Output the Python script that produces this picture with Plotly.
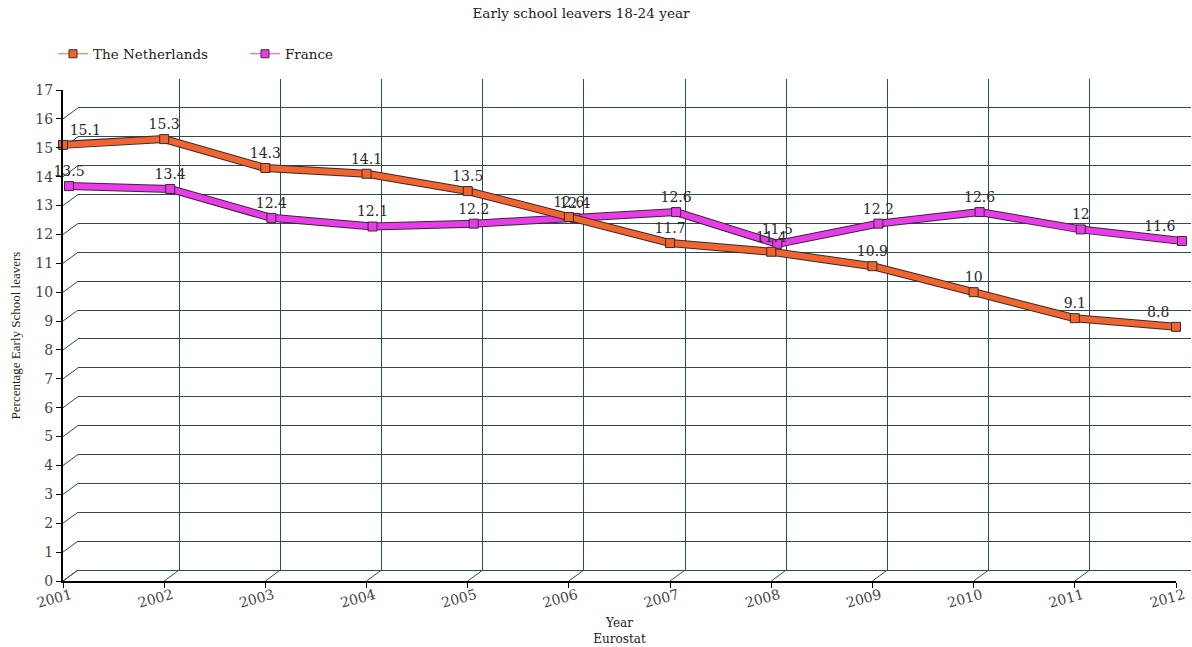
import plotly.graph_objects as go

# Early school leavers (18-24 year), percentage, Eurostat
years = [2001, 2002, 2003, 2004, 2005, 2006, 2007, 2008, 2009, 2010, 2011, 2012]
netherlands = [15.1, 15.3, 14.3, 14.1, 13.5, 12.6, 11.7, 11.4, 10.9, 10.0, 9.1, 8.8]
france = [13.5, 13.4, 12.4, 12.1, 12.2, 12.4, 12.6, 11.5, 12.2, 12.6, 12.0, 11.6]
y_ticks = list(range(0, 18))

NL_COLOR = "#F0652F"
FR_COLOR = "#E83CEB"
EDGE = "#3A2A2A"
GRID = "#2E4A58"
SERIF = "DejaVu Serif"
TIMES = "Liberation Serif"

# plot area in pixels
W, H = 1192, 647
L, R, T, B = 63, 1, 79, 66
PW = W - L - R
PH = H - T - B
DX, DY = 15, 11          # depth of the pseudo-3D box
MX, MY = 6, 5            # depth of the second series


def xdom(off):
    return [off / PW, (PW - DX + off) / PW]


def ydom(off):
    return [off / PH, (PH - DY + off) / PH]


fig = go.Figure()

# back wall grid lives on the first (bottom-most) subplot
fig.add_trace(go.Scatter(x=[None], y=[None], xaxis="x", yaxis="y",
                         showlegend=False, hoverinfo="skip"))


def ribbon(xs, ys, color, xa, ya, name, labpos, rank):
    # dark outline, then the coloured band with square markers
    fig.add_trace(go.Scatter(x=xs, y=ys, mode="lines", xaxis=xa, yaxis=ya,
                             line=dict(color=EDGE, width=8), showlegend=False,
                             hoverinfo="skip"))
    fig.add_trace(go.Scatter(x=xs, y=ys, mode="lines+markers+text", xaxis=xa, yaxis=ya,
                             line=dict(color=color, width=6),
                             marker=dict(symbol="square", size=9, color=color,
                                         line=dict(color=EDGE, width=1)),
                             text=[f"{v:g}" for v in ys], textposition=labpos,
                             textfont=dict(family=SERIF, size=14, color="#2a2a2a"),
                             cliponaxis=False, showlegend=False, name=name))
    # legend entry drawn with a thin line
    fig.add_trace(go.Scatter(x=[None], y=[None], mode="lines+markers", name=name,
                             xaxis=xa, yaxis=ya, legendrank=rank,
                             line=dict(color=color, width=1),
                             marker=dict(symbol="square", size=8, color=color,
                                         line=dict(color=EDGE, width=1))))


fr_pos = ["top center"] * (len(years) - 1) + ["top left"]
nl_pos = ["top right"] + ["top center"] * (len(years) - 2) + ["top left"]
ribbon(years, france, FR_COLOR, "x2", "y2", "France", fr_pos, 2)
ribbon(years, netherlands, NL_COLOR, "x3", "y3", "The Netherlands", nl_pos, 1)

xr = [years[0], years[-1]]
yr = [0, 17]

fig.update_layout(
    width=W, height=H,
    margin=dict(l=L, r=R, t=T, b=B, autoexpand=False),
    plot_bgcolor="rgba(0,0,0,0)", paper_bgcolor="white",
    font=dict(family=SERIF, size=13, color="#222"),
    title=dict(text="Early school leavers 18-24 year", x=581 / W, xanchor="center",
               y=1 - 13 / H, yanchor="middle", font=dict(size=13.6, family=SERIF)),
    legend=dict(orientation="h", x=(53 - L) / PW, xanchor="left", y=(H - B - 54) / PH,
                yanchor="middle", font=dict(size=13.5, family=SERIF), itemwidth=30,
                entrywidth=147, entrywidthmode="pixels",
                bgcolor="rgba(0,0,0,0)"),
    # back wall: gridlines only
    xaxis=dict(domain=xdom(DX), range=xr, tickvals=years, showticklabels=False,
               showgrid=True, gridcolor=GRID, gridwidth=1, zeroline=False,
               showline=False, anchor="y", automargin=False),
    yaxis=dict(domain=ydom(DY), range=yr, tickvals=y_ticks, showticklabels=False,
               showgrid=True, gridcolor=GRID, gridwidth=1, zeroline=True,
               zerolinecolor=GRID, zerolinewidth=1, showline=False, anchor="x",
               automargin=False),
    # middle depth: France
    xaxis2=dict(domain=xdom(MX), range=xr, visible=False, anchor="y2", automargin=False),
    yaxis2=dict(domain=ydom(MY), range=yr, visible=False, anchor="x2", automargin=False),
    # front: The Netherlands, with the visible axes
    xaxis3=dict(domain=xdom(0), range=xr, tickvals=years, ticktext=[str(y) for y in years],
                tickangle=-15, showgrid=False, zeroline=False, showline=True,
                linecolor="black", linewidth=2, ticks="outside", ticklen=5,
                tickcolor="black", tickfont=dict(size=14, family=SERIF, color="#444"),
                ticklabelshift=8, ticklabelstandoff=-6, automargin=False,
                title=dict(text="Year<br>Eurostat", font=dict(size=12, family=SERIF),
                           standoff=9),
                anchor="y3"),
    yaxis3=dict(domain=ydom(0), range=yr, tickvals=y_ticks, showgrid=False, zeroline=False,
                showline=True, linecolor="black", linewidth=2, ticks="outside", ticklen=5,
                tickcolor="black", tickfont=dict(size=14, family=SERIF, color="#444"),
                automargin=False,
                title=dict(text="Percentage Early School leavers",
                           font=dict(size=13, family=TIMES), standoff=12),
                anchor="x3"),
)

# depth edges: floor at each year, left wall at each value
shapes = []
for yv in years:
    shapes.append(dict(type="line", xref="x3", yref="y3", xsizemode="pixel", ysizemode="pixel",
                       xanchor=yv, yanchor=0, x0=0, x1=DX, y0=0, y1=DY,
                       line=dict(color=GRID, width=1), layer="below"))
for v in y_ticks:
    shapes.append(dict(type="line", xref="x3", yref="y3", xsizemode="pixel", ysizemode="pixel",
                       xanchor=years[0], yanchor=v, x0=0, x1=DX, y0=0, y1=DY,
                       line=dict(color=GRID, width=1), layer="below"))
fig.update_layout(shapes=shapes)

fig.write_html("out.html")
